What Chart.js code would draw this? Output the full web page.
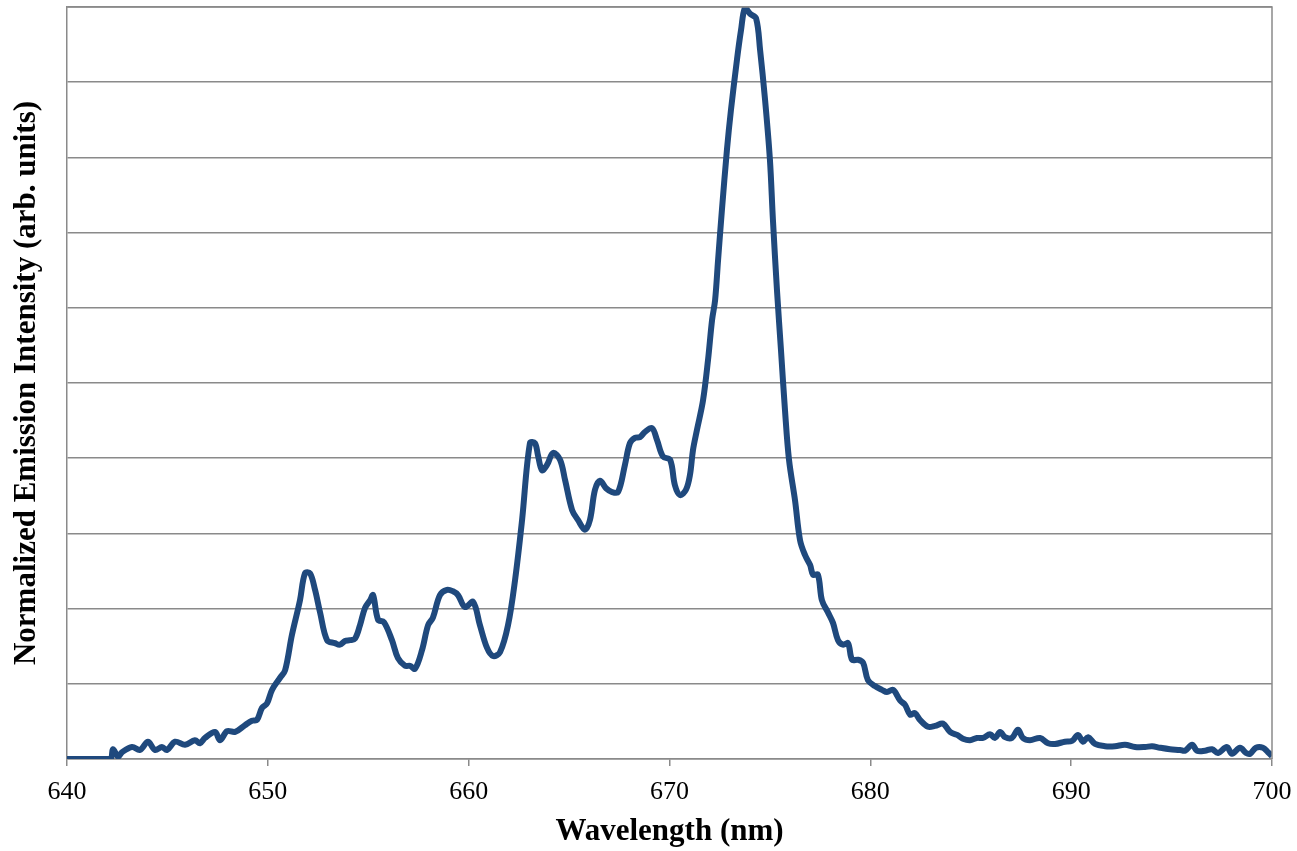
<!DOCTYPE html>
<html>
<head>
<meta charset="utf-8">
<script src="https://cdn.jsdelivr.net/npm/chart.js@4"></script>
<style>
  html, body { margin: 0; padding: 0; background: #fff; }
  #wrap { width: 1297px; height: 851px; }
</style>
</head>
<body>
<div id="wrap"><canvas id="spectrum"></canvas></div>
<script>
// values
const wavelength = [
  640, 642.14, 642.29, 642.54, 642.74, 643.24, 643.63, 644.03, 644.38, 644.73,
  644.98, 645.38, 645.88, 646.37, 646.62, 646.87, 647.37, 647.62, 647.97, 648.37,
  648.86, 649.21, 649.46, 649.71, 649.96, 650.21, 650.61, 650.86, 651.20, 651.60,
  651.85, 652.10, 652.35, 652.60, 652.95, 653.34, 653.59, 653.84, 654.09, 654.34,
  654.59, 654.84, 655.09, 655.24, 655.49, 655.78, 656.18, 656.48, 656.83, 657.08,
  657.33, 657.68, 657.98, 658.22, 658.57, 658.92, 659.22, 659.47, 659.82, 660.22,
  660.56, 660.91, 661.21, 661.56, 661.96, 662.31, 662.66, 663.05, 663.30, 663.45,
  663.65, 663.90, 664.20, 664.55, 664.80, 665.15, 665.44, 665.79, 666.04, 666.29,
  666.54, 666.84, 667.14, 667.44, 667.78, 668.03, 668.28, 668.53, 668.78, 669.13,
  669.38, 669.68, 670.03, 670.27, 670.52, 670.82, 671.02, 671.17, 671.37, 671.67,
  671.92, 672.12, 672.27, 672.42, 672.61, 672.86, 673.06, 673.36, 673.56, 673.76,
  674.01, 674.31, 674.51, 674.76, 675.00, 675.15, 675.35, 675.55, 675.75, 675.95,
  676.25, 676.50, 676.75, 677.00, 677.15, 677.39, 677.59, 677.89, 678.14, 678.39,
  678.64, 678.89, 679.09, 679.39, 679.64, 679.88, 680.23, 680.58, 680.83, 681.13,
  681.48, 681.73, 681.98, 682.22, 682.47, 682.87, 683.22, 683.62, 683.97, 684.32,
  684.61, 684.96, 685.31, 685.61, 685.96, 686.21, 686.46, 686.71, 687.05, 687.35,
  687.60, 687.95, 688.45, 688.85, 689.20, 689.69, 690.04, 690.34, 690.59, 690.84,
  691.19, 691.69, 692.18, 692.68, 693.18, 693.68, 694.03, 694.42, 694.92, 695.42,
  695.67, 696.02, 696.27, 696.66, 697.01, 697.31, 697.75, 698.01, 698.41, 698.71,
  698.91, 699.20, 699.55, 699.80, 700
];
const intensity = [
  0, 0, 0.013, 0.003, 0.009, 0.016, 0.012, 0.023, 0.012, 0.016,
  0.012, 0.023, 0.019, 0.025, 0.021, 0.028, 0.036, 0.025, 0.037, 0.036,
  0.045, 0.051, 0.052, 0.068, 0.074, 0.092, 0.108, 0.118, 0.165, 0.211,
  0.247, 0.247, 0.225, 0.195, 0.158, 0.154, 0.152, 0.157, 0.158, 0.160,
  0.178, 0.201, 0.211, 0.218, 0.185, 0.182, 0.158, 0.134, 0.124, 0.124,
  0.120, 0.145, 0.178, 0.188, 0.218, 0.225, 0.223, 0.218, 0.202, 0.209,
  0.178, 0.148, 0.137, 0.142, 0.178, 0.238, 0.318, 0.420, 0.420, 0.404,
  0.384, 0.391, 0.407, 0.398, 0.371, 0.331, 0.318, 0.305, 0.318, 0.358,
  0.370, 0.360, 0.355, 0.355, 0.391, 0.420, 0.427, 0.428, 0.435, 0.440,
  0.424, 0.402, 0.398, 0.364, 0.351, 0.358, 0.378, 0.411, 0.438, 0.477,
  0.531, 0.584, 0.610, 0.664, 0.730, 0.810, 0.863, 0.930, 0.969, 0.999,
  0.991, 0.985, 0.943, 0.876, 0.797, 0.717, 0.624, 0.544, 0.464, 0.398,
  0.344, 0.291, 0.271, 0.258, 0.245, 0.245, 0.211, 0.195, 0.181, 0.158,
  0.152, 0.154, 0.132, 0.132, 0.128, 0.105, 0.097, 0.092, 0.089, 0.092,
  0.078, 0.072, 0.059, 0.061, 0.052, 0.043, 0.044, 0.047, 0.036, 0.032,
  0.027, 0.025, 0.028, 0.028, 0.033, 0.028, 0.036, 0.029, 0.028, 0.039,
  0.028, 0.025, 0.028, 0.021, 0.020, 0.023, 0.024, 0.032, 0.023, 0.029,
  0.020, 0.017, 0.017, 0.019, 0.016, 0.016, 0.017, 0.015, 0.013, 0.012,
  0.011, 0.019, 0.011, 0.011, 0.013, 0.008, 0.016, 0.007, 0.015, 0.008,
  0.007, 0.015, 0.015, 0.009, 0.004
];
const xTicks = [640, 650, 660, 670, 680, 690, 700];

const gridGrey = '#8a8a8a';
const serif = "'Liberation Serif', 'DejaVu Serif', serif";

// right + top edge of the plot area
const frame = {
  id: 'frame',
  afterDraw(chart) {
    const a = chart.chartArea, c = chart.ctx;
    c.save();
    c.strokeStyle = gridGrey;
    c.lineWidth = 1.5;
    c.beginPath();
    c.moveTo(a.left, a.top);
    c.lineTo(a.right, a.top);
    c.lineTo(a.right, a.bottom);
    c.stroke();
    c.restore();
  }
};

const ctx = document.getElementById('spectrum').getContext('2d');
new Chart(ctx, {
  type: 'line',
  data: {
    datasets: [{
      data: wavelength.map((w, i) => ({ x: w, y: intensity[i] })),
      borderColor: '#1f497d',
      borderWidth: 6,
      pointRadius: 0,
      tension: 0.35,
      fill: false
    }]
  },
  options: {
    responsive: true,
    maintainAspectRatio: false,
    animation: false,
    layout: { padding: { top: 7, right: 25, left: 0, bottom: 0 } },
    plugins: { legend: { display: false }, tooltip: { enabled: false } },
    scales: {
      x: {
        type: 'linear',
        min: 640,
        max: 700,
        afterBuildTicks: s => { s.ticks = xTicks.map(v => ({ value: v })); },
        afterFit: s => { s.height = 92; s.paddingLeft = 0; s.paddingRight = 0; },
        grid: { drawOnChartArea: false, drawTicks: true, tickLength: 7, color: gridGrey, lineWidth: 1.5 },
        border: { color: gridGrey, width: 1.5 },
        ticks: { color: '#000', font: { family: serif, size: 26 }, padding: 11, maxRotation: 0 },
        title: {
          display: true,
          text: 'Wavelength (nm)',
          color: '#000',
          font: { family: serif, size: 31, weight: 'bold' },
          padding: { top: 0, bottom: 0 }
        }
      },
      y: {
        min: 0,
        max: 1,
        afterFit: s => { s.width = 67; },
        ticks: { display: false, stepSize: 0.1 },
        grid: { color: gridGrey, lineWidth: 1.5, drawTicks: false },
        border: { color: gridGrey, width: 1.5 },
        title: {
          display: true,
          text: 'Normalized Emission Intensity (arb. units)',
          color: '#000',
          font: { family: serif, size: 31, weight: 'bold' },
          padding: { top: 8, bottom: 0 }
        }
      }
    }
  },
  plugins: [frame]
});
</script>
</body>
</html>
